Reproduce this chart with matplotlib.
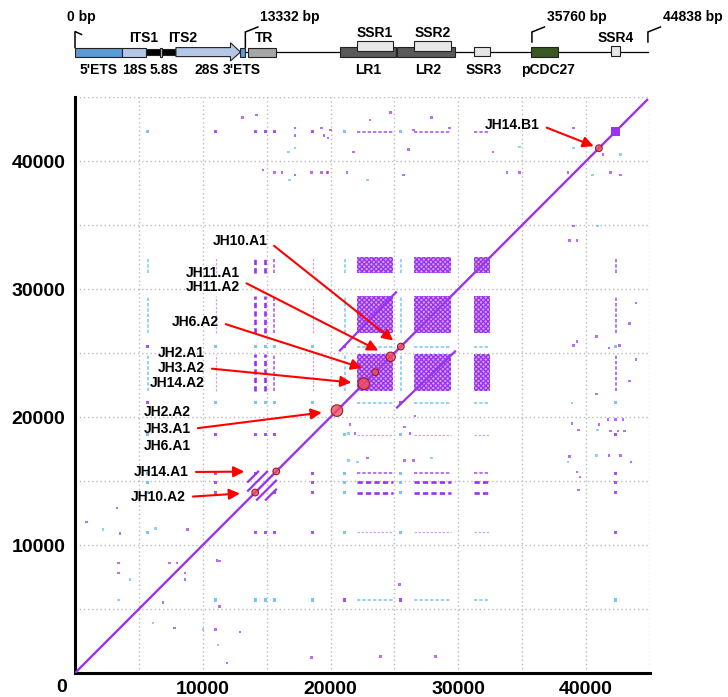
import matplotlib
matplotlib.use("Agg")
import matplotlib.pyplot as plt
from matplotlib.patches import Rectangle, Polygon
from matplotlib.ticker import MultipleLocator, FixedLocator, NullFormatter

plt.rcParams['font.family'] = ['Liberation Sans', 'DejaVu Sans']
plt.rcParams['hatch.linewidth'] = 0.9

# ---------------- data ----------------
seq_len = 44838
feat_names = ["5'ETS", "18S", "ITS1", "5.8S", "ITS2", "28S", "3'ETS", "TR",
              "LR1", "LR2", "SSR1", "SSR2", "SSR3", "pCDC27", "SSR4"]
feat_start = [0, 3680, 5560, 6650, 6810, 7900, 12950, 13540,
              20740, 25200, 22070, 26530, 31230, 35690, 41950]
feat_end = [3680, 5560, 6650, 6810, 7900, 12950, 13330, 15730,
            25120, 29740, 24890, 29430, 32480, 37800, 42650]
map_marks = [0, 13332, 35760, 44838]

repeat_blocks = ["SSR1", "SSR2", "SSR3"]
solid_block = "SSR4"
long_repeat_pair = ("LR1", "LR2")
tr_offsets = [700, 1400]

motif_pos = [5700, 11000, 14100, 14900, 15600, 18600, 21100, 25500, 42300]
motif_strand = ['-', '+', '+', '+', '+', '+', '-', '-', '+']
motif_score = [2, 1, 3, 3, 2, 1, 2, 2, 2]

dot_x = [3300, 900, 3500, 3400, 3400, 7400, 8000, 8600, 8600, 6900, 7800, 11000, 12900,
         8800, 11100, 11300, 11300, 11900, 18500, 4300, 3400, 6100, 11200, 10000, 6300, 2200,
         14200, 13100, 17200, 17200, 19300, 19500, 20000, 19800, 16700, 17200, 14700, 15600,
         16200, 17200, 16800, 18500, 19300, 19800, 21800, 23100, 24700, 26500, 26100, 27900,
         29300, 32700, 34800, 33800, 34800, 38600, 39000, 39000, 40500, 41900, 42700, 41300,
         42700, 39000, 39300, 40900, 25700, 21300, 22900, 19700,
         38700, 40800, 41800, 42600, 43900, 43400, 40800, 43900, 43400,
         41700, 42300, 42900, 41900, 42500, 43000, 41000, 40900, 41800, 42700, 40800, 43500,
         38900, 39400, 38700, 38600, 39300, 39500, 39400, 38900, 39000, 39300,
         21500, 21400, 21900, 22900, 21400, 22100, 25800, 26200, 25800, 26500, 27900, 26600,
         25400, 23900, 28200]
dot_y = [12900, 11800, 10900, 8600, 7800, 8600, 8600, 7800, 7300, 5500, 3500, 3400, 3200,
         11200, 8800, 8750, 5200, 800, 1200, 7300, 5700, 3900, 2200, 3400, 11300, 11200,
         43600, 43400, 42600, 42000, 42600, 42000, 42400, 41800, 40700, 41000, 39300, 39100,
         39100, 38900, 38500, 39100, 39100, 39100, 40700, 43200, 43800, 42400, 40900, 43400,
         42600, 40700, 41100, 39100, 39100, 39100, 42600, 41000, 38900, 39100, 38900, 40500,
         40500, 34900, 33800, 34900, 38900, 39100, 38500, 39100,
         33800, 26300, 25400, 25600, 28900, 27300, 21800, 24500, 22800,
         19800, 19800, 19800, 18900, 18900, 18900, 19400, 19000, 17000, 17000, 17000, 16500,
         19500, 19000, 16900, 16500, 15700, 15300, 14300, 21100, 25600, 25900,
         19400, 18700, 18700, 16800, 16600, 16500, 19200, 18700, 16600, 16600, 16800, 20100,
         6900, 1300, 1300]
dot_strand = list("+++++++++++++" "++++++-------"
                  "++++++++--++" "++-+++++++++" "++-++++--+++"
                  "-++-++-+"
                  "+++++++++"
                  "+++++++-++-+"
                  "+++-+++-++"
                  "+-++--++++-+"
                  "+++")

site_pos = [14100, 15750, 20500, 22600, 23500, 24700, 25500, 41000]
site_labels = [["JH10.A2"], ["JH14.A1"], ["JH2.A2", "JH3.A1", "JH6.A1"],
               ["JH2.A1", "JH3.A2", "JH14.A2"], ["JH6.A2"], ["JH11.A1", "JH11.A2"],
               ["JH10.A1"], ["JH14.B1"]]

tick_vals = [10000, 20000, 30000, 40000]

# ---------------- layout / style ----------------
W, H = 728, 697
PURPLE = '#9A32F0'
BLUE = '#62BEF0'
fig = plt.figure(figsize=(W / 100, H / 100), dpi=100)

feat = {n: (s, e) for n, s, e in zip(feat_names, feat_start, feat_end)}

# main dot plot
ax = fig.add_axes([75 / W, 1 - 673 / H, 575 / W, 576 / H])
ax.set_xlim(0, 45000)
ax.set_ylim(0, 45000)
for a in (ax.xaxis, ax.yaxis):
    a.set_major_locator(FixedLocator(tick_vals))
    a.set_minor_locator(MultipleLocator(5000))
    a.set_minor_formatter(NullFormatter())
ax.grid(which='both', ls=(0, (1, 2)), color='#BBBBBB', lw=1.0)
ax.set_axisbelow(True)
for s in ('top', 'right'):
    ax.spines[s].set_visible(False)
for s in ('left', 'bottom'):
    ax.spines[s].set_linewidth(2.2)
ax.tick_params(which='both', length=0)
ax.tick_params(axis='x', pad=6)
ax.tick_params(axis='y', pad=7)
for lab in ax.get_xticklabels() + ax.get_yticklabels():
    lab.set_fontsize(14)
    lab.set_fontweight('bold')
fig.text(62 / W, 1 - 688 / H, '0', ha='center', va='center', fontsize=14, fontweight='bold')

# repeat blocks
for a_ in repeat_blocks:
    for b_ in repeat_blocks:
        x0, x1 = feat[a_]
        y0, y1 = feat[b_]
        ax.add_patch(Rectangle((x0, y0), x1 - x0, y1 - y0, facecolor='#CFA2F7',
                               edgecolor='#9A30EC', hatch='xxxxxxx', lw=0, zorder=2))
sx0, sx1 = feat[solid_block]
ax.add_patch(Rectangle((sx0, sx0), sx1 - sx0, sx1 - sx0, facecolor=PURPLE, lw=0, zorder=3))

# motif streaks across repeat regions
lw_by = {1: 0.9, 2: 1.2, 3: 1.9}
al_by = {1: 0.45, 2: 0.8, 3: 1.0}
for p, st, sc in zip(motif_pos, motif_strand, motif_score):
    c = PURPLE if st == '+' else BLUE
    for r in repeat_blocks:
        r0, r1 = feat[r]
        ax.plot([p, p], [r0, r1], ls=(0, (2, 1.2)), lw=lw_by[sc], color=c, alpha=al_by[sc], zorder=3)
        ax.plot([r0, r1], [p, p], ls=(0, (2, 1.2)), lw=lw_by[sc], color=c, alpha=al_by[sc], zorder=3)

# motif x motif dots
px_, py_, pc_ = [], [], []
for p, sp in zip(motif_pos, motif_strand):
    for q, sq in zip(motif_pos, motif_strand):
        if abs(p - q) > 1200:
            px_.append(p); py_.append(q)
            pc_.append(PURPLE if sp == sq else BLUE)
ax.scatter(px_, py_, s=5, c=pc_, marker='s', lw=0, zorder=3, alpha=0.85)

# scattered dots
ax.scatter(dot_x, dot_y, s=3, c=[PURPLE if s == '+' else BLUE for s in dot_strand],
           marker='s', lw=0, zorder=3, alpha=0.7)

# main diagonal
ax.plot([0, seq_len], [0, seq_len], color=PURPLE, lw=1.7, zorder=4, solid_capstyle='butt')

# long repeat LR1 vs LR2
l1, l2 = feat[long_repeat_pair[0]], feat[long_repeat_pair[1]]
ax.plot([l1[0], l1[1]], [l2[0], l2[1]], color=PURPLE, lw=1.6, zorder=4)
ax.plot([l2[0], l2[1]], [l1[0], l1[1]], color=PURPLE, lw=1.6, zorder=4)

# TR internal repeats
t0, t1 = feat["TR"]
for d in tr_offsets:
    for sgn in (1, -1):
        dd = sgn * d
        xa, xb = max(t0, t0 - dd), min(t1, t1 - dd)
        ax.plot([xa, xb], [xa + dd, xb + dd], color=PURPLE, lw=1.6, zorder=4)

# sites (circles) with labels
site_n = [len(l) for l in site_labels]
ax.scatter(site_pos, site_pos, s=[23 * n for n in site_n], facecolor=(0.95, 0.3, 0.35, 0.8),
           edgecolor='#9B1B2B', lw=0.8, zorder=6)

label_xy = [(186, 497), (189, 472), (191, 429), (205, 368), (219, 322), (240, 280), (268, 241), (540, 125)]
label_ls = [1.1, 1.1, 1.25, 1.1, 1.1, 1.08, 1.1, 1.1]
shrink_b = [11, 23, 11, 9, 10, 10, 7, 4]
for pos, labs, (lx, ly), ls_, sb in zip(site_pos, site_labels, label_xy, label_ls, shrink_b):
    ax.annotate("\n".join(labs), xy=(pos, pos), xycoords='data',
                xytext=(lx, H - ly), textcoords='figure pixels',
                ha='right', va='center', fontsize=10, fontweight='bold', linespacing=ls_,
                arrowprops=dict(arrowstyle='-|>', color='#FF0000', lw=1.5, mutation_scale=16,
                                shrinkA=3, shrinkB=sb, relpos=(1, 0.5)),
                zorder=7, annotation_clip=False)

# ---------------- gene map ----------------
mp = fig.add_axes([75 / W, 1 - 85 / H, 575 / W, 85 / H])
mp.set_xlim(0, 45000)
mp.set_ylim(85, 0)
mp.axis('off')
bp_per_px = 45000 / 575

mp.plot([0, seq_len], [51.8, 51.8], color='black', lw=0.9, zorder=1)

fstyle = {
    "5'ETS": ('#5B9BD5', 47.6, 56.6, 'below', 0),
    "18S": ('#B4C7E7', 47.6, 56.6, 'below', 0),
    "ITS1": ('#000000', 48.6, 55.2, 'above', -9),
    "5.8S": ('#B4C7E7', 47.6, 56.6, 'below', 3),
    "ITS2": ('#000000', 48.6, 55.2, 'above', 14),
    "28S": ('#B4C7E7', 47.6, 56.6, 'below', -1),
    "3'ETS": ('#5B9BD5', 47.6, 56.6, 'below', -1),
    "TR": ('#A6A6A6', 47.6, 56.6, 'above', 2),
    "LR1": ('#595959', 46.6, 56.8, 'below', 0),
    "LR2": ('#595959', 46.6, 56.8, 'below', 2),
    "SSR1": ('#E7E6E6', 41.3, 51.2, 'above', 0),
    "SSR2": ('#E7E6E6', 41.3, 51.2, 'above', 0),
    "SSR3": ('#E7E6E6', 46.8, 56.2, 'below', 2),
    "pCDC27": ('#385723', 46.8, 56.6, 'below', 3),
    "SSR4": ('#E7E6E6', 46.0, 56.2, 'above', 0),
}
order = ["LR1", "LR2", "SSR1", "SSR2", "5'ETS", "18S", "ITS1", "5.8S", "ITS2", "28S",
         "3'ETS", "TR", "SSR3", "pCDC27", "SSR4"]
for n in order:
    s, e = feat[n]
    fc, y0, y1, where, dx = fstyle[n]
    if n == "28S":
        hs = e - 10 * bp_per_px
        ym = (y0 + y1) / 2
        poly = [(s, y0), (hs, y0), (hs, 42.7), (e, ym), (hs, 61.0), (hs, y1), (s, y1)]
        mp.add_patch(Polygon(poly, closed=True, facecolor=fc, edgecolor='#222222', lw=0.8, zorder=3))
    else:
        mp.add_patch(Rectangle((s, y0), e - s, y1 - y0, facecolor=fc, edgecolor='#222222',
                               lw=0.8, zorder=4 if n.startswith('SSR') else 3))
    cx = (s + e) / 2 + dx * bp_per_px
    if where == 'below':
        ty = 70
    else:
        ty = 33 if n in ("SSR1", "SSR2") else 38
    mp.text(cx, ty, n, ha='center', va='center', fontsize=10, fontweight='bold', zorder=5)

stem_bottom = [47.6, 47.2, 42.0, 42.0]
for m, sb in zip(map_marks, stem_bottom):
    if m == 0:
        mp.plot([m, m, m + 6.5 * bp_per_px], [sb, 31.5, 34.5], color='black', lw=1.1,
                solid_joinstyle='miter', clip_on=False)
        mp.text(m + 6 * bp_per_px, 17, f"{m} bp", ha='center', va='center',
                fontsize=10, fontweight='bold', clip_on=False)
    else:
        mp.plot([m, m, m + 12.5 * bp_per_px], [sb, 32.0, 27.0], color='black', lw=1.1,
                solid_joinstyle='miter', clip_on=False)
        mp.text(m + 15 * bp_per_px, 17, f"{m} bp", ha='left', va='center',
                fontsize=10, fontweight='bold', clip_on=False)

fig.savefig('out.png', dpi=100)
